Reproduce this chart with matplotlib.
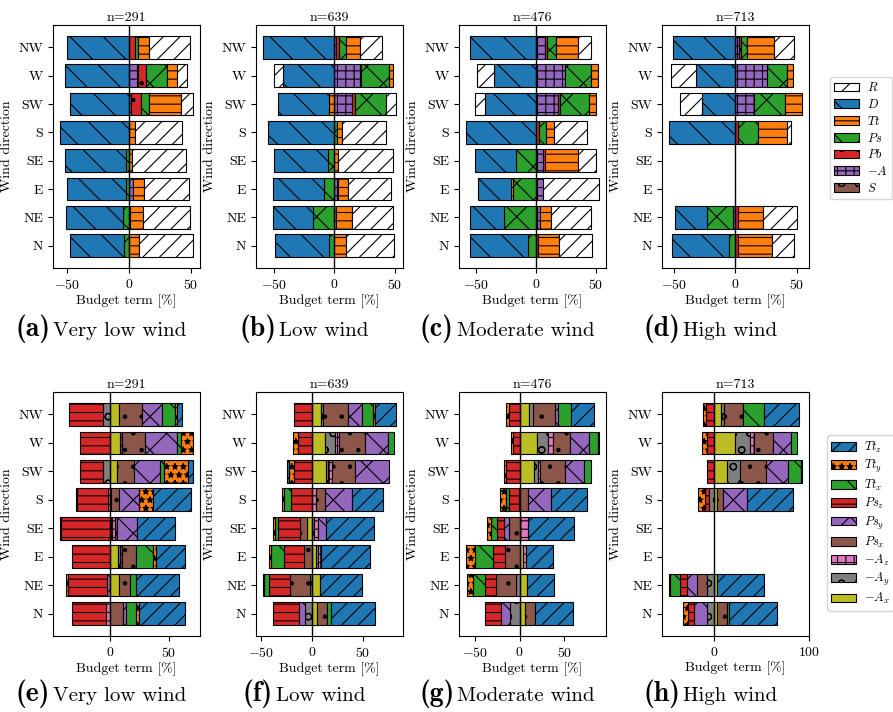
import numpy as np
import matplotlib
matplotlib.use('Agg')
import matplotlib.pyplot as plt
import matplotlib.patches as mpatches
from matplotlib.offsetbox import TextArea, HPacker, AnchoredOffsetbox

plt.rcParams['font.family'] = 'serif'
plt.rcParams['font.serif'] = ['cmr10']
plt.rcParams['mathtext.fontset'] = 'cm'
plt.rcParams['axes.formatter.use_mathtext'] = True
plt.rcParams['font.size'] = 10
plt.rcParams['hatch.linewidth'] = 0.8

nan = np.nan
directions = ['N', 'NE', 'E', 'SE', 'S', 'SW', 'W', 'NW']

# top row terms (legend order), columns follow `directions`
terms_top = ['$R$', '$D$', '$Tt$', '$Ps$', '$Pb$', '$-A$', '$S$']
colors_top = ['white', 'C0', 'C1', 'C2', 'C3', 'C4', 'C5']
hatch_top = ['//', '\\', '--', 'x', '.', '++', 'o']

vlow_top = [
    [43.5, 37.3, 36, 44, 38.5, 10, 8, 33],            # R
    [-43, -46, -47.5, -49.3, -56, -47.5, -52, -50],   # D
    [8.5, 11.2, 9.5, 2.4, 4.5, 26, 8, 9.5],           # Tt
    [-4.3, -4.8, -2.7, -2.7, 0, 6, 17, 2],            # Ps
    [0, 0.5, 0, 0, 0, 8, 7, 5],                       # Pb
    [0, 0, 3, 0, 0, 2, 7, 0],                         # -A
    [0, 0, 0, 0, 0, 0, 0, 0],                         # S
]
low_top = [
    [39.2, 33.7, 35.6, 45, 37, 8.2, -6.8, 18],
    [-44.4, -32.9, -42.7, -44.6, -55, -42.5, -42.5, -59],
    [10.1, 13, 8.2, 3.3, 4, -4.1, 3.3, 11.5],
    [-4.4, -17.3, -8.2, -5, 2, 25.8, 22.7, 6],
    [0, 0, 0, 0, 0, 2.2, 0.8, 2.7],
    [0, 1.4, 3.3, 0, 0, 15, 21.6, 1.4],
    [0, 0, 0, 0, 0, 0, 0, 0],
]
mod_top = [
    [27.5, 33.3, 46.7, 15, 27.8, -8.3, -14.2, 11],
    [-48.3, -28.3, -27.8, -33.6, -59, -43, -35.3, -55.6],
    [17.5, 9.7, -1.4, 27.8, 6.1, 6.1, 5.8, 18],
    [-7, -27, -19.4, -17.2, 6.4, 23.9, 22, 7.8],
    [1.4, 0, 0, 1.4, 2, 1.7, 0, 2],
    [0, 2.8, 6.1, 6.1, 0, 18.3, 23.9, 7],
    [0, 0, 0, 0, 0, 0, 0, 0],
]
high_top = [
    [18.3, 26.9, nan, nan, 3.5, -17.7, -19.9, 16.1],
    [-46.8, -26, nan, nan, -54, -26.9, -32, -50.8],
    [27.4, 20.7, nan, nan, 23.4, 13.7, 4.8, 21.8],
    [-4.8, -21.5, nan, nan, 16.1, 25.5, 16.7, 5.1],
    [1.9, 1.9, nan, nan, 1.9, 0, 0, 1.3],
    [0, -1.6, nan, nan, 0, 15, 25.3, 3.2],
    [0, 0, nan, nan, 0, 0, 0, 0],
]

# bottom row terms (legend order)
terms_bot = ['$Tt_z$', '$Tt_y$', '$Tt_x$', '$Ps_z$', '$Ps_y$', '$Ps_x$',
             '$-A_z$', '$-A_y$', '$-A_x$']
colors_bot = ['C0', 'C1', 'C2', 'C3', 'C4', 'C5', 'C6', 'C7', 'C8']
hatch_bot = ['//', '**', '\\', '--', 'x', '.', '++', 'o', '']

vlow_bot = [
    [39.5, 36.4, 25, 31.6, 31.9, 4.2, 0, 4.8],
    [2.5, -2.3, 2.3, 0, 11.9, 20.3, 10.5, 1.7],
    [7.9, 5.1, 14.7, -1.4, -0.8, 3.1, 3.7, 10.7],
    [-28.5, -33, -32, -41, -26, -19.8, -24.9, -29],
    [2.8, -2, 0, 17, 17.2, 22.3, 26.3, 16.7],
    [11.3, 9.3, 11.3, 1.5, 6.2, 14.4, 19.5, 20],
    [-3.4, 0, 2, 4, -1.4, 0, 1.7, 0],
    [0, 0, 1.7, 0, 0, -5.6, 0, -5.6],
    [0, 7.6, 7, 0.8, 1.4, 6.2, 9, 7.6],
]
low_bot = [
    [43, 41.4, 49, 47.4, 30.8, -2.6, 0, 21.2],
    [0, -1.7, -2, -2.3, -1.7, -4.6, -4.3, 1.7],
    [3.6, -5, -13.2, -3.3, -6.6, 0, 5.6, 10.9],
    [-25.5, -20, -19.5, -21.5, -21, -17.9, -14.2, -17.5],
    [-6, 0, 0, 7.3, 26.5, 33.1, 22.5, 13.9],
    [10.6, -20, -8, -6.6, 8.9, 23.2, 26.5, 24.8],
    [0, 0, 3, 4, 4, 4.3, 4, 0],
    [-7, -2, 2, 2, 0, 1.7, 9.3, 1.7],
    [4.6, 8, 3.6, -5.3, 0, 13.6, 12.9, 8.9],
]
mod_bot = [
    [41.5, 30.7, 29.6, 51.9, 40.7, 0, 1.9, 25.9],
    [0, -6.7, -10, -3.7, -6.7, -2.2, -1.9, -3],
    [0, -13, -20.4, -7.4, -3.7, 7.4, 9.3, 14.8],
    [-18.5, -12.2, -13, -7.4, -10.4, -15.6, -7.4, -11.9],
    [-10, 0, 0, -5.2, 25.9, 21.5, 21.5, 3],
    [12.2, -23, -16.7, -12.2, 9.3, 27.8, 19.3, 24.8],
    [0, 0, 3, 9.3, 0, 1.9, 5.6, 0],
    [-10.4, -3.7, 0, 0, -0.8, 5.2, 11.9, 4.4],
    [5.6, 8.1, 4.4, 0, 0, 15.9, 19.6, 10.4],
]
high_bot = [
    [50.5, 49.8, nan, nan, 48.4, 1, 0, 36.8],
    [-5.3, -1.8, nan, nan, -7, 0, -4.6, -2.5],
    [2.8, -10.5, nan, nan, 0, 14, 6.7, 21.8],
    [-6.3, -7, nan, nan, -4.2, -7, -7.7, -8.8],
    [-14, -10.5, nan, nan, 25.3, 23.9, 18.6, 0],
    [9.8, -10.5, nan, nan, 6.3, 27, 20, 20],
    [0, 0, nan, nan, 0, 0, 4.6, 0],
    [-7.7, -7.7, nan, nan, -5.3, 13.3, 15.8, 3.9],
    [3.5, 2.8, nan, nan, 3.5, 14, 22.1, 7],
]

counts = [291, 639, 476, 713]
tags_top = ['(a)', '(b)', '(c)', '(d)']
tags_bot = ['(e)', '(f)', '(g)', '(h)']
wind_names = ['Very low wind', 'Low wind', 'Moderate wind', 'High wind']


def stacked(ax, rows, colors, hatches):
    vals = np.array(rows, dtype=float)
    y = np.arange(len(directions))
    pos = np.zeros(len(y))
    neg = np.zeros(len(y))
    # plot in reverse legend order, stacking out from zero on each side
    for i in reversed(range(len(vals))):
        v = vals[i]
        ok = ~np.isnan(v) & (v != 0)
        left = np.where(v > 0, pos, neg)
        if ok.any():
            ax.barh(y[ok], v[ok], left=left[ok], height=0.8, color=colors[i],
                    edgecolor='black', hatch=hatches[i], linewidth=0.8)
        pos += np.where(v > 0, v, 0)
        neg += np.where(v < 0, v, 0)
    ax.axvline(0, color='black', lw=1, zorder=5)
    ax.set_yticks(y, directions)
    ax.set_ylabel('Wind direction')
    ax.set_xlabel('Budget term [%]', labelpad=2)


def caption(fig, x, y, tag, text):
    box = HPacker(children=[TextArea(tag, textprops=dict(family='cmb10', size=20)),
                            TextArea(text, textprops=dict(size=15))],
                  align='baseline', pad=0, sep=2)
    anch = AnchoredOffsetbox(loc='center', child=box, pad=0, borderpad=0,
                             frameon=False, bbox_to_anchor=(x, y),
                             bbox_transform=fig.transFigure)
    fig.add_artist(anch)


fig = plt.figure(figsize=(8.93, 7.12), dpi=100)
W, H = 893, 712
lefts = [53, 256, 459, 662]
top_data = [vlow_top, low_top, mod_top, high_top]
bot_data = [vlow_bot, low_bot, mod_bot, high_bot]

for k in range(4):
    ax = fig.add_axes([lefts[k] / W, (H - 268) / H, 147 / W, 243 / H])
    stacked(ax, top_data[k], colors_top, hatch_top)
    ax.set_title('n=%d' % counts[k], fontsize=10, pad=3)
    caption(fig, (101 + 203 * k) / W, (H - 329) / H, tags_top[k], wind_names[k])

    ax = fig.add_axes([lefts[k] / W, (H - 636) / H, 147 / W, 244 / H])
    stacked(ax, bot_data[k], colors_bot, hatch_bot)
    ax.set_title('n=%d' % counts[k], fontsize=10, pad=3)
    caption(fig, (101 + 203 * k) / W, (H - 694) / H, tags_bot[k], wind_names[k])

leg_kw = dict(loc='center left', fontsize=9, borderaxespad=0, borderpad=0.35,
              handletextpad=0.6, handlelength=2.0)
h_top = [mpatches.Patch(facecolor=c, edgecolor='black', hatch=h, lw=0.8)
         for c, h in zip(colors_top, hatch_top)]
fig.legend(h_top, terms_top, bbox_to_anchor=(830 / W, (H - 138) / H),
           labelspacing=0.3, **leg_kw)
h_bot = [mpatches.Patch(facecolor=c, edgecolor='black', hatch=h, lw=0.8)
         for c, h in zip(colors_bot, hatch_bot)]
fig.legend(h_bot, terms_bot, bbox_to_anchor=(827 / W, (H - 523) / H),
           labelspacing=0.25, **leg_kw)

fig.savefig('out.png', dpi=100)
